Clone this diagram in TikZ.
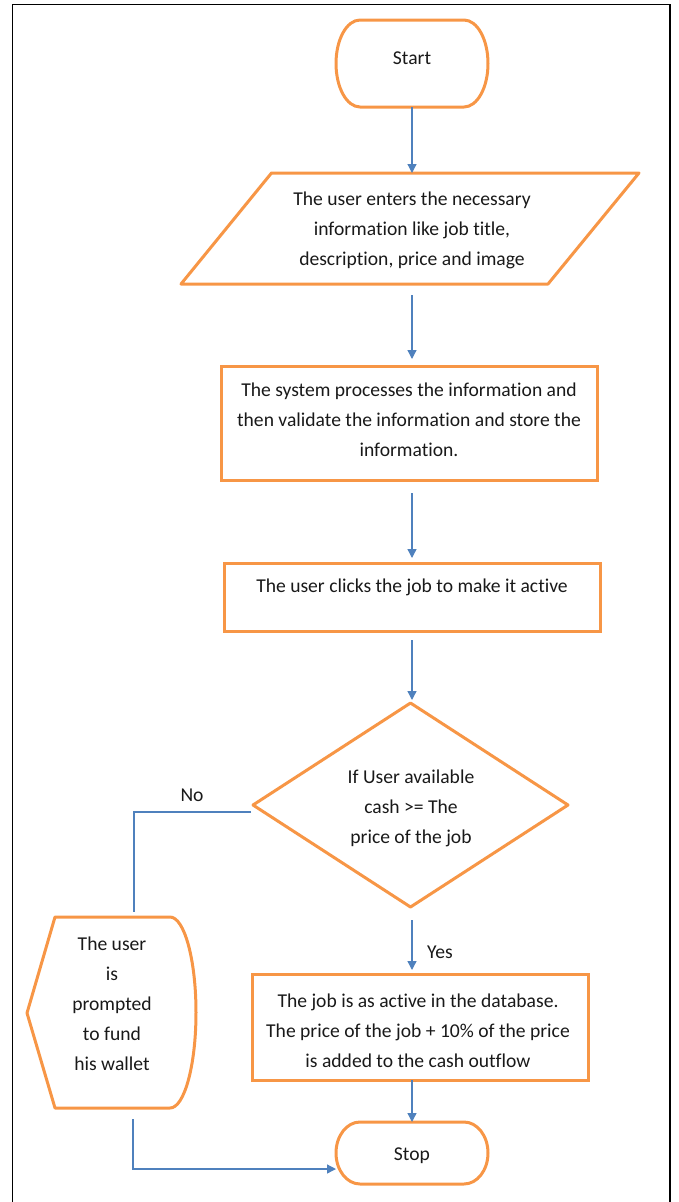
\documentclass[tikz,border=0pt]{standalone}
\usepackage{fontspec}
\setmainfont{Carlito}[Ligatures=NoCommon]
\usetikzlibrary{arrows.meta,calc}
\definecolor{shapeorange}{HTML}{F79646}
\definecolor{linkblue}{HTML}{4F81BD}
\begin{document}
\begin{tikzpicture}[x=1pt,y=1pt,
  outline/.style={draw=shapeorange, line width=3pt, line join=round},
  box/.style={draw=none, inner sep=0pt, outer sep=0pt},
  rectbox/.style={draw=shapeorange, line width=3pt, inner sep=0pt, outer sep=0pt},
  txt/.style={font=\fontsize{19.6}{30}\selectfont, align=center, inner sep=0pt, text=black!90},
  arr/.style={draw=linkblue, line width=1.3pt, -{Triangle[length=9pt,width=9pt]}},
  link/.style={draw=linkblue, line width=1.3pt}]
\useasboundingbox (0,0) rectangle (678,-1202);
% outer frame
\draw[line width=1.3pt] (12.5,-1202) -- (12.5,-4.5) -- (670,-4.5) -- (670,-1202);

% Start terminator
\node[box, minimum width=152pt, minimum height=87pt] (start) at (412,-63.5) {};
\draw[outline] (360,-20) -- (464,-20) arc[start angle=90,end angle=-90,x radius=24,y radius=43.5]
  -- (360,-107) arc[start angle=270,end angle=90,x radius=24,y radius=43.5] -- cycle;
\node[txt] (starttxt) at (412,-58.5) {Start};

% input parallelogram
\node[box, minimum width=458pt, minimum height=111pt] (para) at (410,-228.5) {};
\draw[outline] (271.5,-173) -- (639,-173) -- (548,-284) -- (181,-284) -- cycle;
\node[txt] (paratxt) at (412,-230) {The user enters the necessary\\information like job title,\\description, price and image};

% process 1
\node[rectbox, minimum width=376pt, minimum height=114pt] (proc) at (409,-423) {};
\node[txt] (proctxt) at (409,-420) {The system processes the information and\\then validate the information and store the\\information.};

% process 2
\node[rectbox, minimum width=376pt, minimum height=68pt] (click) at (412,-597) {};
\node[txt] (clicktxt) at (412,-587) {The user clicks the job to make it active};

% decision
\node[box, minimum width=315pt, minimum height=204pt] (dec) at (410.5,-805) {};
\draw[outline] (dec.north) -- (dec.east) -- (dec.south) -- (dec.west) -- cycle;
\node[txt] (dectxt) at (411,-808) {If User available\\cash >= The\\price of the job};

% display shape
\node[box, minimum width=169pt, minimum height=191pt] (disp) at (111.5,-1012.5) {};
\draw[outline] (55,-917) -- (170,-917) arc[start angle=90,end angle=-90,x radius=26,y radius=95.5]
  -- (55,-1108) -- (27,-1013) -- cycle;
\node[txt] (disptxt) at (112,-1004) {The user\\is\\prompted\\to fund\\his wallet};

% process 3
\node[rectbox, minimum width=336pt, minimum height=106pt] (active) at (420,-1027) {};
\node[txt] (activetxt) at (418,-1031) {The job is as active in the database.\\The price of the job + 10\% of the price\\is added to the cash outflow};

% Stop terminator
\node[box, minimum width=152pt, minimum height=62pt] (stop) at (412,-1153) {};
\draw[outline] (360,-1122) -- (464,-1122) arc[start angle=90,end angle=-90,x radius=24,y radius=31]
  -- (360,-1184) arc[start angle=270,end angle=90,x radius=24,y radius=31] -- cycle;
\node[txt] (stoptxt) at (412,-1156) {Stop};

% connectors
\draw[arr] (start.south) -- (start.south |- para.north);
\draw[arr, shorten <=11pt, shorten >=7pt] (start.south |- para.south) -- (start.south |- proc.north);
\draw[arr, shorten <=13pt, shorten >=5pt] (start.south |- proc.south) -- (start.south |- click.north);
\draw[arr, shorten <=9pt, shorten >=3pt] (start.south |- click.south) -- (start.south |- dec.north);
\draw[arr, shorten <=13pt, shorten >=4pt] (start.south |- dec.south) -- (start.south |- active.north);
\draw[arr] (start.south |- active.south) -- (start.south |- stop.north);
\draw[link] ([xshift=-2pt,yshift=-7pt]dec.west) -| ([xshift=22.5pt,yshift=5pt]disp.north);
\draw[arr] ([xshift=21.5pt,yshift=-11pt]disp.south) |- ([yshift=-16pt]stop.west);

% labels
\node[txt] (nolbl) at (192,-795) {No};
\node[txt] (yeslbl) at (440,-952) {Yes};
\end{tikzpicture}
\end{document}
